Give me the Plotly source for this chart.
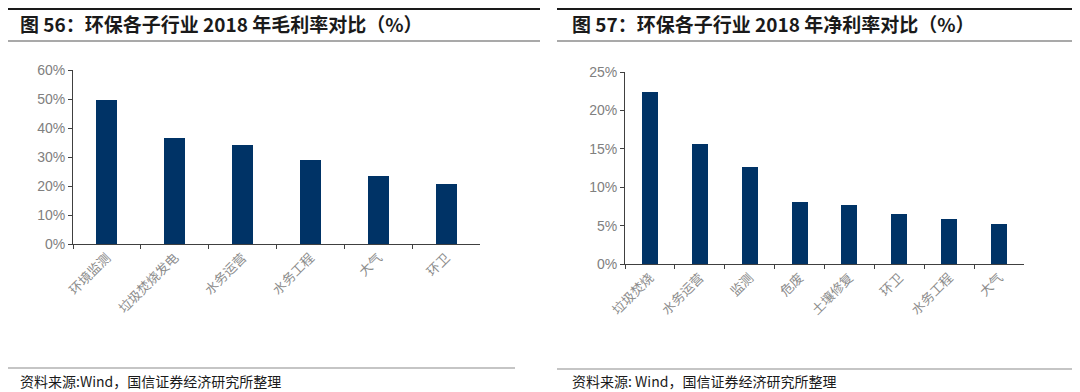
import plotly.graph_objects as go

# page body has an 8px margin; figure coordinates are offset to compensate
OFF = 8
W, H = 1080 - OFF, 392 - OFF

left_title = "图 56：环保各子行业 2018 年毛利率对比（%）"
left_cats = ["环境监测", "垃圾焚烧发电", "水务运营", "水务工程", "大气", "环卫"]
left_vals = [49.7, 36.5, 34.2, 28.9, 23.5, 20.8]
left_ticks = [0, 10, 20, 30, 40, 50, 60]

right_title = "图 57：环保各子行业 2018 年净利率对比（%）"
right_cats = ["垃圾焚烧", "水务运营", "监测", "危废", "土壤修复", "环卫", "水务工程", "大气"]
right_vals = [22.4, 15.6, 12.6, 8.1, 7.7, 6.5, 5.9, 5.2]
right_ticks = [0, 5, 10, 15, 20, 25]

left_source = "资料来源:Wind，国信证券经济研究所整理"
right_source = "资料来源: Wind，国信证券经济研究所整理"

BAR = "#003366"
CJK = "Noto Sans CJK SC"
LAT = "Liberation Sans, Arial, sans-serif"


def px_x(x):
    return (x - OFF) / W


def px_y(y):
    return 1 - (y - OFF) / H


fig = go.Figure()
fig.add_trace(go.Bar(x=left_cats, y=left_vals, marker=dict(color=BAR, line=dict(width=0)),
                     width=0.31, xaxis="x", yaxis="y"))
fig.add_trace(go.Bar(x=right_cats, y=right_vals, marker=dict(color=BAR, line=dict(width=0)),
                     width=0.32, xaxis="x2", yaxis="y2"))

axis_common = dict(showgrid=False, zeroline=False, showline=True, linecolor="#404040", linewidth=1,
                   ticks="outside", ticklen=4, tickcolor="#404040", fixedrange=True, automargin=False)
xfont = dict(family=CJK, size=13, color="#8c8c8c")
yfont = dict(family=LAT, size=14, color="#808080")

fig.update_layout(
    template="none",
    width=W, height=H, margin=dict(l=0, r=0, t=0, b=0, pad=0), autosize=False,
    paper_bgcolor="white", plot_bgcolor="white", showlegend=False, bargap=0,
    xaxis=dict(domain=[px_x(73), px_x(480)], anchor="y", tickson="boundaries",
               tickangle=-45, tickfont=xfont, **axis_common),
    yaxis=dict(domain=[px_y(244), px_y(70)], anchor="x", range=[0, 60],
               tickvals=left_ticks, ticktext=[f"{v}%" for v in left_ticks],
               tickfont=yfont, **axis_common),
    xaxis2=dict(domain=[px_x(625), px_x(1024)], anchor="y2", tickson="boundaries",
                tickangle=-45, tickfont=xfont, **axis_common),
    yaxis2=dict(domain=[px_y(264), px_y(72)], anchor="x2", range=[0, 25],
                tickvals=right_ticks, ticktext=[f"{v}%" for v in right_ticks],
                tickfont=yfont, **axis_common),
)

shapes = []
for x0, x1 in [(OFF, 540), (557, 1080)]:
    shapes.append(dict(type="line", xref="paper", yref="paper", x0=px_x(x0), x1=px_x(x1),
                       y0=px_y(OFF + 1), y1=px_y(OFF + 1), line=dict(color="#1a1a1a", width=2)))
    shapes.append(dict(type="line", xref="paper", yref="paper", x0=px_x(x0), x1=px_x(x1),
                       y0=px_y(41), y1=px_y(41), line=dict(color="#8c8c8c", width=1.5)))
shapes.append(dict(type="line", xref="paper", yref="paper", x0=px_x(OFF), x1=px_x(515),
                   y0=px_y(368), y1=px_y(368), line=dict(color="#8c8c8c", width=1.2)))
shapes.append(dict(type="line", xref="paper", yref="paper", x0=px_x(557), x1=px_x(1080),
                   y0=px_y(369), y1=px_y(369), line=dict(color="#8c8c8c", width=1.2)))
fig.update_layout(shapes=shapes)

ann = []
for x, t in [(18, left_title), (570, right_title)]:
    ann.append(dict(x=px_x(x), y=px_y(23), xref="paper", yref="paper", xanchor="left", yanchor="middle",
                    text=f"<b>{t}</b>", showarrow=False,
                    font=dict(family=CJK, size=19, color="#1a1a1a")))
for x, t in [(18, left_source), (570, right_source)]:
    ann.append(dict(x=px_x(x), y=px_y(381), xref="paper", yref="paper", xanchor="left", yanchor="middle",
                    text=t, showarrow=False,
                    font=dict(family=CJK, size=14, color="#1a1a1a")))
fig.update_layout(annotations=ann)

fig.write_html("out.html")
